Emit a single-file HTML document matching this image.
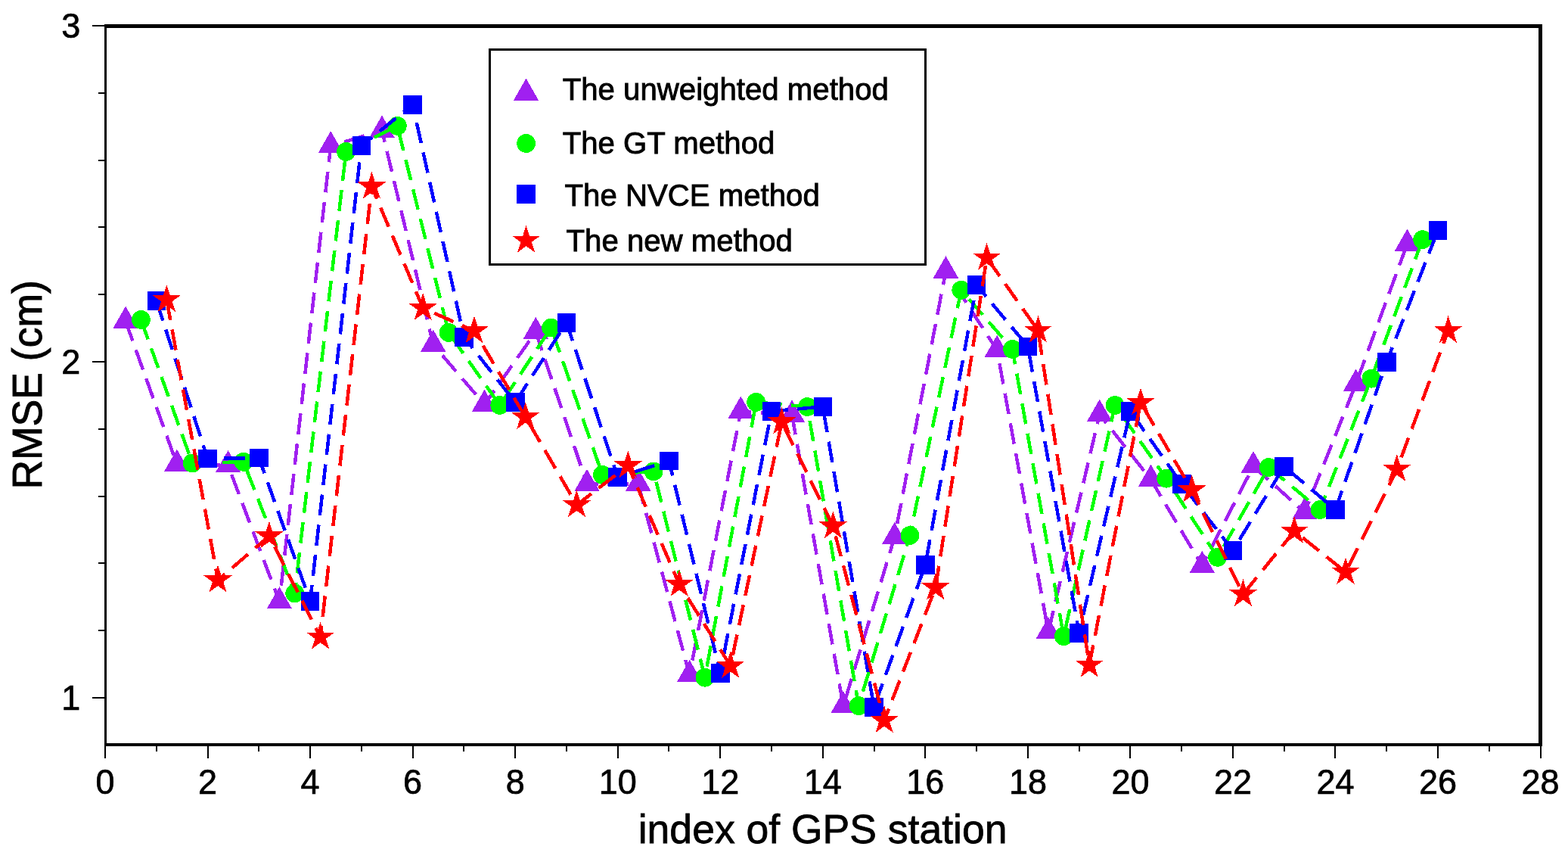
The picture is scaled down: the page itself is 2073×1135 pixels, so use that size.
<!DOCTYPE html>
<html lang="en">
<head>
<meta charset="utf-8">
<title>RMSE by GPS station</title>
<style>
html,body{margin:0;padding:0;background:#fff;}
body{width:2073px;height:1135px;overflow:hidden;}
svg{display:block;}
svg text{font-family:"Liberation Sans",Arial,Helvetica,sans-serif;fill:#000;}
.tk{font-size:45px;stroke:#000;stroke-width:0.7px;}
.ax{font-size:53.5px;stroke:#000;stroke-width:0.8px;}
.lg{font-size:40.2px;stroke:#000;stroke-width:0.9px;}
</style>
</head>
<body>
<svg width="2073" height="1135" viewBox="0 0 2073 1135">
<rect x="0" y="0" width="2073" height="1135" fill="#ffffff"/>
<g id="data" shape-rendering="crispEdges">
<polyline points="166.1,424.5 233.9,613.5 301.6,615.0 369.4,795.0 437.2,193.0 505.0,172.4 572.7,455.4 640.5,534.5 708.3,438.6 776.0,639.6 843.8,639.4 911.6,891.8 979.3,543.5 1047.1,548.2 1114.9,933.0 1182.7,709.8 1250.4,358.2 1318.2,462.7 1386.0,835.1 1453.7,547.5 1521.5,633.6 1589.3,747.6 1657.0,616.0 1724.8,677.0 1792.6,507.3 1860.4,322.4" fill="none" stroke="#a020f0" stroke-width="4.5" stroke-dasharray="27.64 12.56" stroke-linejoin="miter"/>
<g><polygon points="166.1,404.6 182.8,433.8 149.4,433.8" fill="#a020f0"/><polygon points="233.9,593.6 250.6,622.8 217.2,622.8" fill="#a020f0"/><polygon points="301.6,595.1 318.3,624.3 284.9,624.3" fill="#a020f0"/><polygon points="369.4,775.1 386.1,804.3 352.7,804.3" fill="#a020f0"/><polygon points="437.2,173.1 453.9,202.3 420.5,202.3" fill="#a020f0"/><polygon points="505.0,152.5 521.7,181.7 488.3,181.7" fill="#a020f0"/><polygon points="572.7,435.5 589.4,464.7 556.0,464.7" fill="#a020f0"/><polygon points="640.5,514.6 657.2,543.8 623.8,543.8" fill="#a020f0"/><polygon points="708.3,418.7 725.0,447.9 691.6,447.9" fill="#a020f0"/><polygon points="776.0,619.7 792.7,648.9 759.3,648.9" fill="#a020f0"/><polygon points="843.8,619.5 860.5,648.7 827.1,648.7" fill="#a020f0"/><polygon points="911.6,871.9 928.3,901.1 894.9,901.1" fill="#a020f0"/><polygon points="979.3,523.6 996.0,552.8 962.6,552.8" fill="#a020f0"/><polygon points="1047.1,528.3 1063.8,557.5 1030.4,557.5" fill="#a020f0"/><polygon points="1114.9,913.1 1131.6,942.3 1098.2,942.3" fill="#a020f0"/><polygon points="1182.7,689.9 1199.4,719.1 1166.0,719.1" fill="#a020f0"/><polygon points="1250.4,338.3 1267.1,367.5 1233.7,367.5" fill="#a020f0"/><polygon points="1318.2,442.8 1334.9,472.0 1301.5,472.0" fill="#a020f0"/><polygon points="1386.0,815.2 1402.7,844.4 1369.3,844.4" fill="#a020f0"/><polygon points="1453.7,527.6 1470.4,556.8 1437.0,556.8" fill="#a020f0"/><polygon points="1521.5,613.7 1538.2,642.9 1504.8,642.9" fill="#a020f0"/><polygon points="1589.3,727.7 1606.0,756.9 1572.6,756.9" fill="#a020f0"/><polygon points="1657.0,596.1 1673.7,625.3 1640.3,625.3" fill="#a020f0"/><polygon points="1724.8,657.1 1741.5,686.3 1708.1,686.3" fill="#a020f0"/><polygon points="1792.6,487.4 1809.3,516.6 1775.9,516.6" fill="#a020f0"/><polygon points="1860.4,302.5 1877.1,331.7 1843.7,331.7" fill="#a020f0"/></g>
<polyline points="186.4,422.4 254.2,611.9 322.0,610.3 389.7,783.9 457.5,200.4 525.3,166.3 593.1,439.4 660.8,535.4 728.6,433.1 796.4,627.3 864.1,622.9 931.9,895.2 999.7,531.4 1067.4,537.5 1135.2,932.6 1203.0,707.4 1270.8,383.3 1338.5,461.4 1406.3,840.7 1474.1,535.4 1541.8,632.2 1609.6,736.3 1677.4,617.5 1745.1,673.5 1812.9,500.2 1880.7,316.6" fill="none" stroke="#00ff00" stroke-width="4.5" stroke-dasharray="27.62 12.55" stroke-linejoin="miter"/>
<g><circle cx="186.4" cy="422.4" r="12.4" fill="#00ff00"/><circle cx="254.2" cy="611.9" r="12.4" fill="#00ff00"/><circle cx="322.0" cy="610.3" r="12.4" fill="#00ff00"/><circle cx="389.7" cy="783.9" r="12.4" fill="#00ff00"/><circle cx="457.5" cy="200.4" r="12.4" fill="#00ff00"/><circle cx="525.3" cy="166.3" r="12.4" fill="#00ff00"/><circle cx="593.1" cy="439.4" r="12.4" fill="#00ff00"/><circle cx="660.8" cy="535.4" r="12.4" fill="#00ff00"/><circle cx="728.6" cy="433.1" r="12.4" fill="#00ff00"/><circle cx="796.4" cy="627.3" r="12.4" fill="#00ff00"/><circle cx="864.1" cy="622.9" r="12.4" fill="#00ff00"/><circle cx="931.9" cy="895.2" r="12.4" fill="#00ff00"/><circle cx="999.7" cy="531.4" r="12.4" fill="#00ff00"/><circle cx="1067.4" cy="537.5" r="12.4" fill="#00ff00"/><circle cx="1135.2" cy="932.6" r="12.4" fill="#00ff00"/><circle cx="1203.0" cy="707.4" r="12.4" fill="#00ff00"/><circle cx="1270.8" cy="383.3" r="12.4" fill="#00ff00"/><circle cx="1338.5" cy="461.4" r="12.4" fill="#00ff00"/><circle cx="1406.3" cy="840.7" r="12.4" fill="#00ff00"/><circle cx="1474.1" cy="535.4" r="12.4" fill="#00ff00"/><circle cx="1541.8" cy="632.2" r="12.4" fill="#00ff00"/><circle cx="1609.6" cy="736.3" r="12.4" fill="#00ff00"/><circle cx="1677.4" cy="617.5" r="12.4" fill="#00ff00"/><circle cx="1745.1" cy="673.5" r="12.4" fill="#00ff00"/><circle cx="1812.9" cy="500.2" r="12.4" fill="#00ff00"/><circle cx="1880.7" cy="316.6" r="12.4" fill="#00ff00"/></g>
<polyline points="206.8,397.3 274.5,606.0 342.3,605.0 410.1,794.4 477.8,192.6 545.6,138.4 613.4,445.5 681.2,531.6 748.9,426.4 816.7,630.4 884.5,609.0 952.2,889.3 1020.0,543.4 1087.8,537.4 1155.5,934.6 1223.3,746.5 1291.1,376.7 1358.9,457.8 1426.6,836.3 1494.4,543.4 1562.2,639.3 1629.9,727.5 1697.7,616.3 1765.5,673.4 1833.2,478.3 1901.0,304.5" fill="none" stroke="#0000ff" stroke-width="4.5" stroke-dasharray="27.62 12.55" stroke-linejoin="miter"/>
<g><rect x="194.5" y="385.0" width="24.6" height="24.6" fill="#0000ff"/><rect x="262.2" y="593.7" width="24.6" height="24.6" fill="#0000ff"/><rect x="330.0" y="592.7" width="24.6" height="24.6" fill="#0000ff"/><rect x="397.8" y="782.1" width="24.6" height="24.6" fill="#0000ff"/><rect x="465.5" y="180.3" width="24.6" height="24.6" fill="#0000ff"/><rect x="533.3" y="126.1" width="24.6" height="24.6" fill="#0000ff"/><rect x="601.1" y="433.2" width="24.6" height="24.6" fill="#0000ff"/><rect x="668.9" y="519.3" width="24.6" height="24.6" fill="#0000ff"/><rect x="736.6" y="414.1" width="24.6" height="24.6" fill="#0000ff"/><rect x="804.4" y="618.1" width="24.6" height="24.6" fill="#0000ff"/><rect x="872.2" y="596.7" width="24.6" height="24.6" fill="#0000ff"/><rect x="939.9" y="877.0" width="24.6" height="24.6" fill="#0000ff"/><rect x="1007.7" y="531.1" width="24.6" height="24.6" fill="#0000ff"/><rect x="1075.5" y="525.1" width="24.6" height="24.6" fill="#0000ff"/><rect x="1143.2" y="922.3" width="24.6" height="24.6" fill="#0000ff"/><rect x="1211.0" y="734.2" width="24.6" height="24.6" fill="#0000ff"/><rect x="1278.8" y="364.4" width="24.6" height="24.6" fill="#0000ff"/><rect x="1346.6" y="445.5" width="24.6" height="24.6" fill="#0000ff"/><rect x="1414.3" y="824.0" width="24.6" height="24.6" fill="#0000ff"/><rect x="1482.1" y="531.1" width="24.6" height="24.6" fill="#0000ff"/><rect x="1549.9" y="627.0" width="24.6" height="24.6" fill="#0000ff"/><rect x="1617.6" y="715.2" width="24.6" height="24.6" fill="#0000ff"/><rect x="1685.4" y="604.0" width="24.6" height="24.6" fill="#0000ff"/><rect x="1753.2" y="661.1" width="24.6" height="24.6" fill="#0000ff"/><rect x="1821.0" y="466.0" width="24.6" height="24.6" fill="#0000ff"/><rect x="1888.7" y="292.2" width="24.6" height="24.6" fill="#0000ff"/></g>
<polyline points="220.3,396.0 288.1,766.5 355.9,708.3 423.6,841.6 491.4,246.5 559.2,407.1 626.9,437.3 694.7,551.0 762.5,667.2 830.3,615.2 898.0,772.0 965.8,879.8 1033.6,557.5 1101.3,695.3 1169.1,952.0 1236.9,776.3 1304.6,340.6 1372.4,436.6 1440.2,878.7 1508.0,532.0 1575.7,647.5 1643.5,785.1 1711.3,701.7 1779.0,755.8 1846.8,620.0 1914.6,437.0" fill="none" stroke="#ff0000" stroke-width="4.5" stroke-dasharray="27.60 12.55" stroke-linejoin="miter"/>
<g><polygon points="220.3,376.2 224.8,389.9 239.2,389.9 227.5,398.3 232.0,412.0 220.3,403.6 208.7,412.0 213.1,398.3 201.5,389.9 215.9,389.9" fill="#ff0000"/><polygon points="288.1,746.7 292.5,760.4 306.9,760.4 295.3,768.8 299.7,782.5 288.1,774.1 276.5,782.5 280.9,768.8 269.3,760.4 283.6,760.4" fill="#ff0000"/><polygon points="355.9,688.5 360.3,702.2 374.7,702.2 363.1,710.6 367.5,724.3 355.9,715.9 344.2,724.3 348.7,710.6 337.0,702.2 351.4,702.2" fill="#ff0000"/><polygon points="423.6,821.8 428.1,835.5 442.5,835.5 430.8,843.9 435.3,857.6 423.6,849.2 412.0,857.6 416.4,843.9 404.8,835.5 419.2,835.5" fill="#ff0000"/><polygon points="491.4,226.7 495.8,240.4 510.2,240.4 498.6,248.8 503.0,262.5 491.4,254.1 479.8,262.5 484.2,248.8 472.6,240.4 487.0,240.4" fill="#ff0000"/><polygon points="559.2,387.3 563.6,401.0 578.0,401.0 566.4,409.4 570.8,423.1 559.2,414.7 547.5,423.1 552.0,409.4 540.3,401.0 554.7,401.0" fill="#ff0000"/><polygon points="626.9,417.5 631.4,431.2 645.8,431.2 634.1,439.6 638.6,453.3 626.9,444.9 615.3,453.3 619.8,439.6 608.1,431.2 622.5,431.2" fill="#ff0000"/><polygon points="694.7,531.2 699.2,544.9 713.5,544.9 701.9,553.3 706.4,567.0 694.7,558.6 683.1,567.0 687.5,553.3 675.9,544.9 690.3,544.9" fill="#ff0000"/><polygon points="762.5,647.4 766.9,661.1 781.3,661.1 769.7,669.5 774.1,683.2 762.5,674.8 750.8,683.2 755.3,669.5 743.7,661.1 758.0,661.1" fill="#ff0000"/><polygon points="830.3,595.4 834.7,609.1 849.1,609.1 837.4,617.5 841.9,631.2 830.3,622.8 818.6,631.2 823.1,617.5 811.4,609.1 825.8,609.1" fill="#ff0000"/><polygon points="898.0,752.2 902.5,765.9 916.9,765.9 905.2,774.3 909.7,788.0 898.0,779.6 886.4,788.0 890.8,774.3 879.2,765.9 893.6,765.9" fill="#ff0000"/><polygon points="965.8,860.0 970.2,873.7 984.6,873.7 973.0,882.1 977.4,895.8 965.8,887.4 954.2,895.8 958.6,882.1 947.0,873.7 961.3,873.7" fill="#ff0000"/><polygon points="1033.6,537.7 1038.0,551.4 1052.4,551.4 1040.8,559.8 1045.2,573.5 1033.6,565.1 1021.9,573.5 1026.4,559.8 1014.7,551.4 1029.1,551.4" fill="#ff0000"/><polygon points="1101.3,675.5 1105.8,689.2 1120.2,689.2 1108.5,697.6 1113.0,711.3 1101.3,702.9 1089.7,711.3 1094.1,697.6 1082.5,689.2 1096.9,689.2" fill="#ff0000"/><polygon points="1169.1,932.2 1173.5,945.9 1187.9,945.9 1176.3,954.3 1180.7,968.0 1169.1,959.6 1157.5,968.0 1161.9,954.3 1150.3,945.9 1164.7,945.9" fill="#ff0000"/><polygon points="1236.9,756.5 1241.3,770.2 1255.7,770.2 1244.1,778.6 1248.5,792.3 1236.9,783.9 1225.2,792.3 1229.7,778.6 1218.0,770.2 1232.4,770.2" fill="#ff0000"/><polygon points="1304.6,320.8 1309.1,334.5 1323.5,334.5 1311.8,342.9 1316.3,356.6 1304.6,348.2 1293.0,356.6 1297.5,342.9 1285.8,334.5 1300.2,334.5" fill="#ff0000"/><polygon points="1372.4,416.8 1376.9,430.5 1391.2,430.5 1379.6,438.9 1384.1,452.6 1372.4,444.2 1360.8,452.6 1365.2,438.9 1353.6,430.5 1368.0,430.5" fill="#ff0000"/><polygon points="1440.2,858.9 1444.6,872.6 1459.0,872.6 1447.4,881.0 1451.8,894.7 1440.2,886.3 1428.5,894.7 1433.0,881.0 1421.4,872.6 1435.7,872.6" fill="#ff0000"/><polygon points="1508.0,512.2 1512.4,525.9 1526.8,525.9 1515.1,534.3 1519.6,548.0 1508.0,539.6 1496.3,548.0 1500.8,534.3 1489.1,525.9 1503.5,525.9" fill="#ff0000"/><polygon points="1575.7,627.7 1580.2,641.4 1594.6,641.4 1582.9,649.8 1587.4,663.5 1575.7,655.1 1564.1,663.5 1568.5,649.8 1556.9,641.4 1571.3,641.4" fill="#ff0000"/><polygon points="1643.5,765.3 1647.9,779.0 1662.3,779.0 1650.7,787.4 1655.1,801.1 1643.5,792.7 1631.9,801.1 1636.3,787.4 1624.7,779.0 1639.0,779.0" fill="#ff0000"/><polygon points="1711.3,681.9 1715.7,695.6 1730.1,695.6 1718.5,704.0 1722.9,717.7 1711.3,709.3 1699.6,717.7 1704.1,704.0 1692.4,695.6 1706.8,695.6" fill="#ff0000"/><polygon points="1779.0,736.0 1783.5,749.7 1797.9,749.7 1786.2,758.1 1790.7,771.8 1779.0,763.4 1767.4,771.8 1771.8,758.1 1760.2,749.7 1774.6,749.7" fill="#ff0000"/><polygon points="1846.8,600.2 1851.2,613.9 1865.6,613.9 1854.0,622.3 1858.4,636.0 1846.8,627.6 1835.2,636.0 1839.6,622.3 1828.0,613.9 1842.4,613.9" fill="#ff0000"/><polygon points="1914.6,417.2 1919.0,430.9 1933.4,430.9 1921.8,439.3 1926.2,453.0 1914.6,444.6 1902.9,453.0 1907.4,439.3 1895.7,430.9 1910.1,430.9" fill="#ff0000"/></g>
</g>
<g id="frame" fill="#000" shape-rendering="crispEdges">
<rect x="138" y="32" width="1901" height="5"/>
<rect x="138" y="982" width="1901" height="4"/>
<rect x="138" y="32" width="3" height="954"/>
<rect x="2034" y="32" width="5" height="954"/>
<rect x="138" y="984" width="2" height="18"/>
<rect x="206" y="984" width="2" height="9"/>
<rect x="274" y="984" width="2" height="18"/>
<rect x="341" y="984" width="2" height="9"/>
<rect x="409" y="984" width="2" height="18"/>
<rect x="477" y="984" width="2" height="9"/>
<rect x="545" y="984" width="2" height="18"/>
<rect x="612" y="984" width="2" height="9"/>
<rect x="680" y="984" width="2" height="18"/>
<rect x="748" y="984" width="2" height="9"/>
<rect x="816" y="984" width="2" height="18"/>
<rect x="883" y="984" width="2" height="9"/>
<rect x="951" y="984" width="2" height="18"/>
<rect x="1019" y="984" width="2" height="9"/>
<rect x="1087" y="984" width="2" height="18"/>
<rect x="1155" y="984" width="2" height="9"/>
<rect x="1222" y="984" width="2" height="18"/>
<rect x="1290" y="984" width="2" height="9"/>
<rect x="1358" y="984" width="2" height="18"/>
<rect x="1426" y="984" width="2" height="9"/>
<rect x="1493" y="984" width="2" height="18"/>
<rect x="1561" y="984" width="2" height="9"/>
<rect x="1629" y="984" width="2" height="18"/>
<rect x="1697" y="984" width="2" height="9"/>
<rect x="1764" y="984" width="2" height="18"/>
<rect x="1832" y="984" width="2" height="9"/>
<rect x="1900" y="984" width="2" height="18"/>
<rect x="1968" y="984" width="2" height="9"/>
<rect x="2036" y="984" width="2" height="18"/>
<rect x="122" y="921" width="17" height="2"/>
<rect x="130" y="832" width="9" height="2"/>
<rect x="130" y="743" width="9" height="2"/>
<rect x="130" y="655" width="9" height="2"/>
<rect x="130" y="566" width="9" height="2"/>
<rect x="122" y="477" width="17" height="2"/>
<rect x="130" y="388" width="9" height="2"/>
<rect x="130" y="299" width="9" height="2"/>
<rect x="130" y="211" width="9" height="2"/>
<rect x="130" y="122" width="9" height="2"/>
<rect x="122" y="33" width="17" height="2"/>
</g>
<g class="tk" text-anchor="middle">
<text transform="translate(139.0 1048.9) scale(1 1.03)">0</text>
<text transform="translate(274.5 1048.9) scale(1 1.03)">2</text>
<text transform="translate(410.1 1048.9) scale(1 1.03)">4</text>
<text transform="translate(545.6 1048.9) scale(1 1.03)">6</text>
<text transform="translate(681.2 1048.9) scale(1 1.03)">8</text>
<text transform="translate(816.7 1048.9) scale(1 1.03)">10</text>
<text transform="translate(952.2 1048.9) scale(1 1.03)">12</text>
<text transform="translate(1087.8 1048.9) scale(1 1.03)">14</text>
<text transform="translate(1223.3 1048.9) scale(1 1.03)">16</text>
<text transform="translate(1358.9 1048.9) scale(1 1.03)">18</text>
<text transform="translate(1494.4 1048.9) scale(1 1.03)">20</text>
<text transform="translate(1629.9 1048.9) scale(1 1.03)">22</text>
<text transform="translate(1765.5 1048.9) scale(1 1.03)">24</text>
<text transform="translate(1901.0 1048.9) scale(1 1.03)">26</text>
<text transform="translate(2036.6 1048.9) scale(1 1.03)">28</text>
</g>
<g class="tk" text-anchor="end">
<text transform="translate(106.3 938.2) scale(1 1.03)">1</text>
<text transform="translate(106.3 494.2) scale(1 1.03)">2</text>
<text transform="translate(106.3 50.2) scale(1 1.03)">3</text>
</g>
<text class="ax" x="1087.6" y="1114.3" text-anchor="middle">index of GPS station</text>
<text class="ax" style="stroke-width:0.9px" transform="translate(55.2 508.4) rotate(-90) scale(1 1.04)" text-anchor="middle">RMSE (cm)</text>
<g id="legend" shape-rendering="crispEdges">
<rect x="647.5" y="65.5" width="576" height="284" fill="#fff" stroke="#000" stroke-width="3"/>
<polygon points="695.5,103.6 712.2,132.8 678.8,132.8" fill="#a020f0"/>
<circle cx="695.6" cy="189.5" r="12.4" fill="#00ff00"/>
<rect x="683.3" y="244.2" width="24.6" height="24.6" fill="#0000ff"/>
<polygon points="695.6,297.8 700.0,311.5 714.4,311.5 702.8,319.9 707.2,333.6 695.6,325.2 684.0,333.6 688.4,319.9 676.8,311.5 691.2,311.5" fill="#ff0000"/>
<text class="lg" x="743.7" y="131.9">The unweighted method</text>
<text class="lg" x="743.7" y="202.5">The GT method</text>
<text class="lg" x="746.5" y="271.8">The NVCE method</text>
<text class="lg" x="748.5" y="331.9">The new method</text>
</g>
</svg>
</body>
</html>
